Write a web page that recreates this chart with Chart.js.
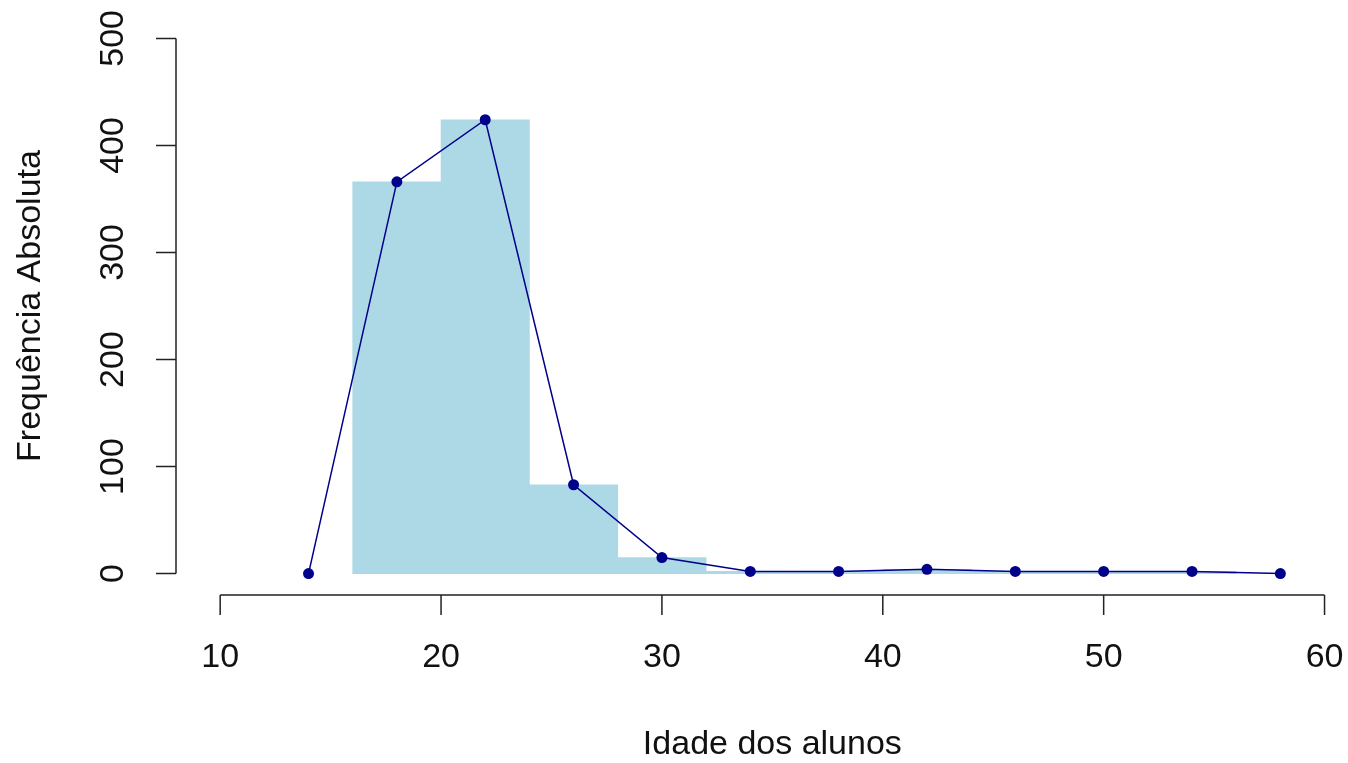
<!DOCTYPE html>
<html>
<head>
<meta charset="utf-8">
<style>
  html, body { margin: 0; padding: 0; background: #fff; }
  #wrap { width: 1348px; height: 763px; position: relative; }
</style>
<script src="https://cdn.jsdelivr.net/npm/chart.js@4.4.1/dist/chart.umd.min.js"></script>
</head>
<body>
<div id="wrap"><canvas id="histChart"></canvas></div>
<script>
// classes do histograma (pontos médios) e frequências
const binMids = [18, 22, 26, 30, 34, 38, 42, 46, 50, 54];
const binFreqs = [366, 424, 83, 15, 2, 2, 4, 2, 2, 2];

// polígono de frequências (inclui classes vazias nas pontas)
const polyX = [14, 18, 22, 26, 30, 34, 38, 42, 46, 50, 54, 58];
const polyY = [0, 366, 424, 83, 15, 2, 2, 4, 2, 2, 2, 0];

const xTicks = [10, 20, 30, 40, 50, 60];
const yTicks = [0, 100, 200, 300, 400, 500];

const FONT = '34px "Liberation Sans", Arial, sans-serif';

// eixos no estilo do R base (linha só entre o primeiro e o último tick)
const rAxesPlugin = {
    id: 'rAxes',
    afterDraw: (chart) => {
        const ctx = chart.ctx;
        const xs = chart.scales.x, ys = chart.scales.y;
        const area = chart.chartArea;
        ctx.save();
        ctx.strokeStyle = '#222';
        ctx.lineWidth = 1.5;
        ctx.fillStyle = '#111';
        ctx.font = FONT;

        // eixo x
        const axY = area.bottom;
        ctx.beginPath();
        ctx.moveTo(xs.getPixelForValue(xTicks[0]), axY);
        ctx.lineTo(xs.getPixelForValue(xTicks[xTicks.length - 1]), axY);
        xTicks.forEach(t => {
            const px = xs.getPixelForValue(t);
            ctx.moveTo(px, axY);
            ctx.lineTo(px, axY + 20);
        });
        ctx.stroke();
        ctx.textAlign = 'center';
        ctx.textBaseline = 'middle';
        xTicks.forEach(t => ctx.fillText(String(t), xs.getPixelForValue(t), 658));

        // eixo y
        const axX = area.left;
        ctx.beginPath();
        ctx.moveTo(axX, ys.getPixelForValue(yTicks[0]));
        ctx.lineTo(axX, ys.getPixelForValue(yTicks[yTicks.length - 1]));
        yTicks.forEach(t => {
            const py = ys.getPixelForValue(t);
            ctx.moveTo(axX, py);
            ctx.lineTo(axX - 20, py);
        });
        ctx.stroke();
        yTicks.forEach(t => {
            ctx.save();
            ctx.translate(114, ys.getPixelForValue(t));
            ctx.rotate(-Math.PI / 2);
            ctx.fillText(String(t), 0, 0);
            ctx.restore();
        });

        // títulos
        ctx.fillText('Idade dos alunos', xs.getPixelForValue(35), 745);
        ctx.save();
        ctx.translate(31, ys.getPixelForValue(250));
        ctx.rotate(-Math.PI / 2);
        ctx.fillText('Frequência Absoluta', 0, 0);
        ctx.restore();
        ctx.restore();
    }
};

new Chart(document.getElementById('histChart').getContext('2d'), {
    type: 'bar',
    data: {
        datasets: [
            {
                type: 'line',
                label: 'Polígono',
                data: polyX.map((x, i) => ({ x: x, y: polyY[i] })),
                borderColor: '#00008B',
                backgroundColor: '#00008B',
                borderWidth: 1.5,
                pointRadius: 5.5,
                pointBorderWidth: 0,
                tension: 0,
                fill: false,
                order: 1
            },
            {
                label: 'Histograma',
                data: binMids.map((x, i) => ({ x: x, y: binFreqs[i] })),
                backgroundColor: '#ADD8E6',
                borderWidth: 0,
                barPercentage: 1,
                categoryPercentage: 1,
                order: 2
            }
        ]
    },
    options: {
        responsive: true,
        maintainAspectRatio: false,
        animation: false,
        layout: { padding: { left: 176, right: 8, top: 17, bottom: 168 } },
        plugins: { legend: { display: false }, tooltip: { enabled: false } },
        scales: {
            x: {
                type: 'linear', min: 8, max: 60.7, display: false, offset: false,
                // só os ticks do eixo, para a largura das barras seguir o intervalo das classes
                afterBuildTicks: (s) => { s.ticks = xTicks.map(v => ({ value: v })); }
            },
            y: { type: 'linear', min: -20, max: 520, display: false }
        }
    },
    plugins: [rAxesPlugin]
});
</script>
</body>
</html>
